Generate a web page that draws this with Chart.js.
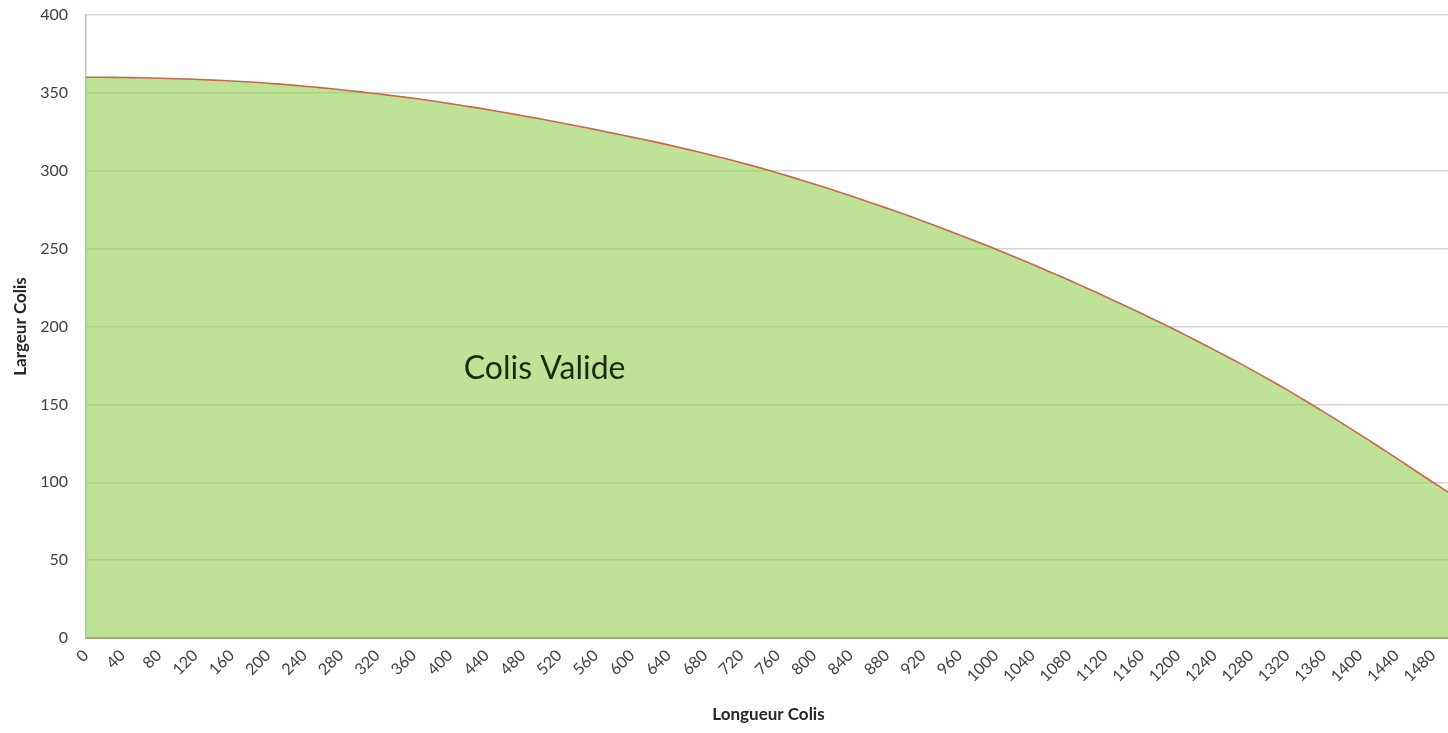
<!DOCTYPE html>
<html>
<head>
<meta charset="utf-8">
<script src="https://cdn.jsdelivr.net/npm/chart.js@4"></script>
<style>
  html, body { margin: 0; padding: 0; background: #fff; overflow: hidden; }
  #wrap { width: 1451px; height: 733px; position: relative; }
</style>
</head>
<body>
<div id="wrap"><canvas id="colis-chart"></canvas></div>
<script>
// longueur (x) every 20, largeur max (y)
const longueurs = [
    0, 20, 40, 60, 80, 100, 120, 140, 160, 180,
    200, 220, 240, 260, 280, 300, 320, 340, 360, 380,
    400, 420, 440, 460, 480, 500, 520, 540, 560, 580,
    600, 620, 640, 660, 680, 700, 720, 740, 760, 780,
    800, 820, 840, 860, 880, 900, 920, 940, 960, 980,
    1000, 1020, 1040, 1060, 1080, 1100, 1120, 1140, 1160, 1180,
    1200, 1220, 1240, 1260, 1280, 1300, 1320, 1340, 1360, 1380,
    1400, 1420, 1440, 1460, 1480, 1500
];
const largeurs = [
    360, 360, 359.9, 359.7, 359.4, 359.1, 358.7, 358.2, 357.6, 357.0,
    356.2, 355.3, 354.3, 353.2, 352.0, 350.8, 349.4, 348.0, 346.5, 344.9,
    343.1, 341.3, 339.4, 337.4, 335.3, 333.2, 331.0, 328.7, 326.4, 324.0,
    321.6, 319.2, 316.6, 313.9, 311.1, 308.2, 305.2, 302.0, 298.6, 295.1,
    291.5, 287.8, 284.0, 280.0, 276.0, 271.9, 267.6, 263.3, 258.8, 254.3,
    249.6, 244.8, 239.9, 234.9, 229.8, 224.6, 219.3, 213.8, 208.3, 202.7,
    196.9, 191.0, 185.0, 178.8, 172.5, 166.0, 159.3, 152.3, 145.2, 138.0,
    130.6, 123.1, 115.5, 107.7, 100.0, 92.5
];
const xMax = 1500;
const xStep = 40;
const yMax = 400;
const yStep = 50;
const zoneLabel = 'Colis Valide';
const zonePos = { x: 504, y: 173 };

const labelPlugin = {
    id: 'zoneLabel',
    afterDatasetsDraw(chart) {
        const { ctx, scales } = chart;
        ctx.save();
        ctx.font = '32px Lato';
        ctx.fillStyle = '#1c2a12';
        ctx.textAlign = 'center';
        ctx.textBaseline = 'middle';
        ctx.fillText(zoneLabel, scales.x.getPixelForValue(zonePos.x), scales.y.getPixelForValue(zonePos.y));
        ctx.restore();
    }
};

const renderChart = () => {
    const ctx = document.getElementById('colis-chart').getContext('2d');

    new Chart(ctx, {
        type: 'line',
        data: {
            datasets: [{
                label: 'Largeur max',
                data: longueurs.map((l, i) => ({ x: l, y: largeurs[i] })),
                borderColor: '#c8674a',
                borderWidth: 1.6,
                backgroundColor: 'rgba(146, 208, 80, 0.6)',
                fill: 'origin',
                pointRadius: 0,
                tension: 0.3
            }]
        },
        options: {
            responsive: true,
            maintainAspectRatio: false,
            animation: false,
            layout: { padding: { top: 15, right: 0, left: 0, bottom: 0 } },
            plugins: {
                legend: { display: false },
                tooltip: { enabled: false }
            },
            scales: {
                x: {
                    type: 'linear',
                    min: 0,
                    max: xMax,
                    grid: { display: false, drawTicks: false },
                    border: { display: true, color: '#a39c78', width: 2 },
                    ticks: {
                        stepSize: xStep,
                        includeBounds: false,
                        autoSkip: false,
                        minRotation: 45,
                        maxRotation: 45,
                        padding: 8,
                        color: '#404040',
                        font: { family: 'Lato', size: 16 },
                        callback: (v) => String(v)
                    },
                    title: {
                        display: true,
                        text: 'Longueur Colis',
                        color: '#262626',
                        font: { family: 'Lato', size: 17, weight: 'bold' },
                        padding: { top: 0, bottom: 8 }
                    },
                    afterFit: (scale) => {
                        scale.height = 95;
                        scale.paddingLeft = 0;
                        scale.paddingRight = 0;
                    }
                },
                y: {
                    min: 0,
                    max: yMax,
                    grid: { color: '#d4d4d4', lineWidth: 1.5, drawTicks: false },
                    border: { display: true, color: '#bfbfbf', width: 1.5 },
                    ticks: {
                        stepSize: yStep,
                        padding: 18,
                        color: '#404040',
                        font: { family: 'Lato', size: 16 }
                    },
                    title: {
                        display: true,
                        text: 'Largeur Colis',
                        color: '#262626',
                        font: { family: 'Lato', size: 17, weight: 'bold' },
                        padding: { top: 10, bottom: 0 }
                    },
                    afterFit: (scale) => {
                        scale.width = 86;
                        scale.paddingTop = 0;
                        scale.paddingBottom = 0;
                    }
                }
            }
        },
        plugins: [labelPlugin]
    });
};

document.addEventListener('DOMContentLoaded', () => {
    renderChart();
});
</script>
</body>
</html>
